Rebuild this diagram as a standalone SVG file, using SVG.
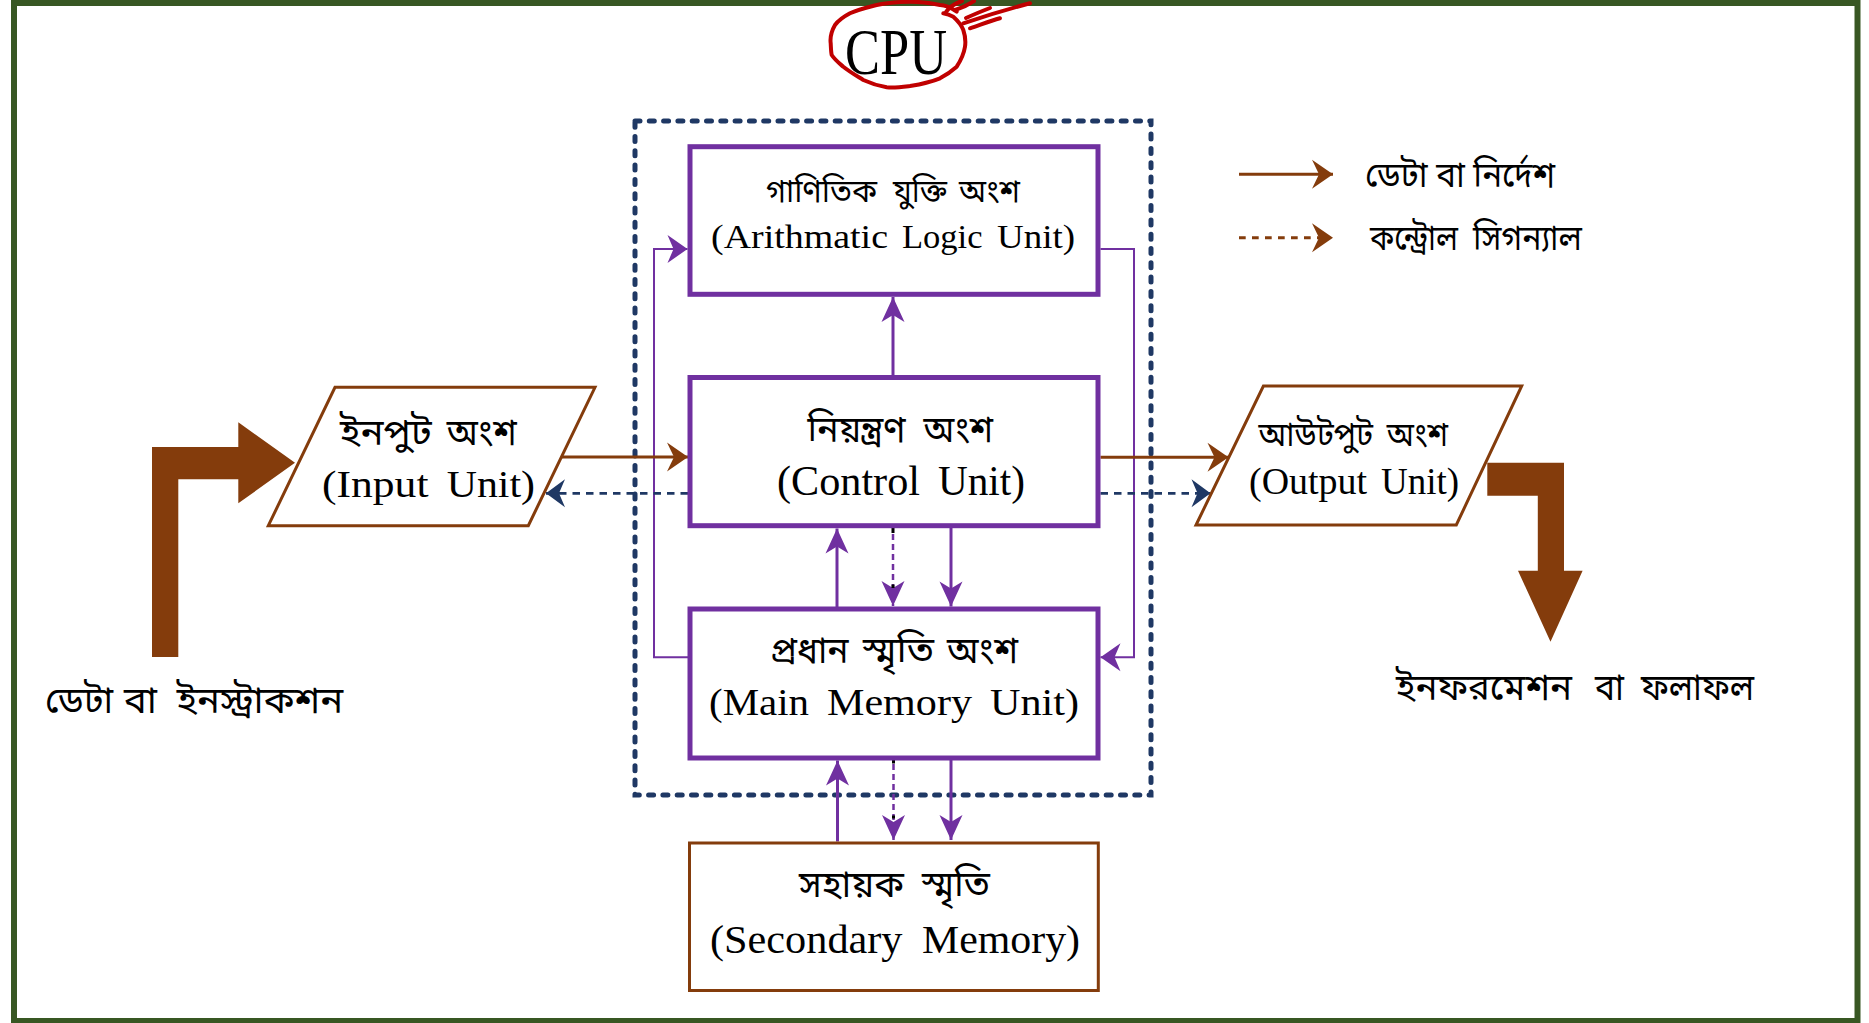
<svg xmlns="http://www.w3.org/2000/svg" width="1869" height="1023" viewBox="0 0 1869 1023">
  <style>
    .bn { font-family: "Noto Sans Bengali", "Noto Serif Bengali", "Lohit Bengali", "Vrinda", "Nirmala UI", "Noto Sans", sans-serif; fill: #000; }
    .en { font-family: "Liberation Serif", "Times New Roman", serif; fill: #000; }
    .unit { fill: #fff; stroke: #7030a0; stroke-width: 5; }
    .io { fill: #fff; stroke: #843c0c; stroke-width: 3; }
    .pl { fill: none; stroke: #7030a0; stroke-width: 3; }
    .loop { fill: none; stroke: #7030a0; stroke-width: 2; }
    .pdash { fill: none; stroke: #7030a0; stroke-width: 2.5; stroke-dasharray: 6 4; }
    .bl { fill: none; stroke: #843c0c; stroke-width: 3; }
    .nd { fill: none; stroke: #1f3864; stroke-width: 2.7; stroke-dasharray: 7.5 6; }
    .bigarrow { fill: #843c0c; }
  </style>
  <defs>
    <marker id="pLong" viewBox="-26 -13 27 26" refX="0" refY="0" markerWidth="27" markerHeight="26" markerUnits="userSpaceOnUse" orient="auto">
      <path d="M0,0 L-25,-11.5 L-18,0 L-25,11.5 Z" fill="#7030a0"/>
    </marker>
    <marker id="pWide" viewBox="-22 -15 23 30" refX="0" refY="0" markerWidth="23" markerHeight="30" markerUnits="userSpaceOnUse" orient="auto">
      <path d="M0,0 L-20,-14 L-14,0 L-20,14 Z" fill="#7030a0"/>
    </marker>
    <marker id="bWide" viewBox="-22 -15 23 30" refX="0" refY="0" markerWidth="23" markerHeight="30" markerUnits="userSpaceOnUse" orient="auto">
      <path d="M0,0 L-21,-14.5 L-14,0 L-21,14.5 Z" fill="#843c0c"/>
    </marker>
    <marker id="nWide" viewBox="-22 -15 23 30" refX="0" refY="0" markerWidth="23" markerHeight="30" markerUnits="userSpaceOnUse" orient="auto">
      <path d="M0,0 L-19,-14 L-13,0 L-19,14 Z" fill="#1f3864"/>
    </marker>
  </defs>

  <rect x="0" y="0" width="1869" height="1023" fill="#fff"/>
  <!-- page frame -->
  <rect id="frame" x="14" y="3" width="1843.5" height="1018" fill="none" stroke="#385723" stroke-width="6"/>

  <!-- CPU title with hand-drawn ring -->
  <g id="cpu-title">
    <text class="en" x="845" y="74" font-size="66" textLength="102" lengthAdjust="spacingAndGlyphs">CPU</text>
    <g fill="none" stroke="#c00000" stroke-width="4" stroke-linecap="round" stroke-linejoin="round">
      <path d="M956.7,11.7 C950,7 945,5 940,5 C925,2 918,1.7 910,1.7 C895,2 885,3 876.7,5 C865,8 857,10 850,13.3 C843,17 838,21 835,25 C831,32 830,38 830.7,43.3 C831,49 831,52 831.7,55 C835,60 839,63 843.3,66.7 C850,72 857,76 863.3,80 C872,84 879,86 886.7,87.3 C895,88 902,87 910,86 C922,84 931,82 940,78.3 C948,74 953,70 956.7,66.7 C961,60 964,53 965,46.7 C966,40 965,35 963.3,30 C961,24 957,20 953.3,16.7 C950,15 947,14 943.3,13.3"/>
      <path d="M946,12 C950,6 956,3 962,1 M955,10 C962,8 968,5 974,1"/>
      <path d="M963.3,23.3 C985,16 1008,9 1030,3.3"/>
      <path d="M970,28.3 C980,25 990,21 1000,18.3"/>
      <path d="M966,18 C975,14 982,11 990,8"/>
    </g>
  </g>

  <!-- CPU boundary -->
  <rect id="cpu-boundary" x="635" y="121" width="516" height="674" fill="none" stroke="#1f3864" stroke-width="5" stroke-dasharray="5 9.3" stroke-linecap="round"/>

  <!-- connectors -->
  <g id="connectors">
    <!-- control to ALU -->
    <line class="pl" x1="893" y1="375" x2="893" y2="297" marker-end="url(#pLong)"/>
    <!-- main memory back to ALU (left loop) -->
    <polyline class="loop" points="688,657.3 654,657.3 654,249 687.5,249" marker-end="url(#pWide)"/>
    <!-- ALU result to main memory (right loop) -->
    <polyline class="loop" points="1100.5,249 1134,249 1134,657.3 1100.5,657.3" marker-end="url(#pWide)"/>

    <!-- control <-> main memory -->
    <line class="pl" x1="837" y1="607" x2="837" y2="528.5" marker-end="url(#pLong)"/>
    <line class="pdash" x1="893" y1="534" x2="893" y2="606" marker-end="url(#pLong)"/>
    <line class="pl" x1="951" y1="528" x2="951" y2="606.5" marker-end="url(#pLong)"/>

    <!-- main memory <-> secondary memory -->
    <line class="pl" x1="837.5" y1="841.5" x2="837.5" y2="760.5" marker-end="url(#pLong)"/>
    <line class="pdash" x1="893.5" y1="764" x2="893.5" y2="840" marker-end="url(#pLong)"/>
    <line class="pl" x1="951" y1="760" x2="951" y2="840" marker-end="url(#pLong)"/>
    <!-- tiny black stubs at the ends of the dotted control lines -->
    <g fill="#000">
      <rect x="891.5" y="528" width="3" height="5"/>
      <rect x="891.5" y="584.5" width="3" height="3.5"/>
      <rect x="892" y="758.5" width="3" height="5"/>
      <rect x="892" y="815.5" width="3" height="3"/>
    </g>

    <!-- input to control, control to output (data) -->
    <line class="bl" x1="561" y1="457" x2="688" y2="457" marker-end="url(#bWide)"/>
    <line class="bl" x1="1100.5" y1="457.3" x2="1228.5" y2="457.3" marker-end="url(#bWide)"/>
    <!-- control signals to input/output -->
    <line class="nd" x1="688" y1="493.3" x2="546" y2="493.3" marker-end="url(#nWide)"/>
    <line class="nd" x1="1100.5" y1="493.3" x2="1210.5" y2="493.3" marker-end="url(#nWide)"/>

    <!-- bulk data in / information out -->
    <polygon class="bigarrow" points="152,657 152,447 238.3,447 238.3,422.3 295,462.7 238.3,503.3 238.3,479.3 178.3,479.3 178.3,657"/>
    <polygon class="bigarrow" points="1487.3,462.7 1564,462.7 1564,570.7 1582.6,570.7 1550.5,641.7 1518,570.7 1537.8,570.7 1537.8,495.7 1487.3,495.7"/>
  </g>

  <!-- units -->
  <g id="alu">
    <rect class="unit" x="690" y="146.7" width="408" height="147.6"/>
    <g class="bn" font-size="32">
      <text x="766" y="202" textLength="111" lengthAdjust="spacingAndGlyphs">গাণিতিক</text>
      <text x="893" y="202" textLength="54" lengthAdjust="spacingAndGlyphs">যুক্তি</text>
      <text x="959" y="202" textLength="61" lengthAdjust="spacingAndGlyphs">অংশ</text>
    </g>
    <g class="en" font-size="33">
      <text x="711" y="248.3" textLength="177" lengthAdjust="spacingAndGlyphs">(Arithmatic</text>
      <text x="902" y="248.3" textLength="80.5" lengthAdjust="spacingAndGlyphs">Logic</text>
      <text x="997" y="248.3" textLength="78" lengthAdjust="spacingAndGlyphs">Unit)</text>
    </g>
  </g>
  <g id="control-unit">
    <rect class="unit" x="690" y="377.5" width="408" height="148.2"/>
    <g class="bn" font-size="37">
      <text x="807.5" y="442" textLength="98" lengthAdjust="spacingAndGlyphs">নিয়ন্ত্রণ</text>
      <text x="923.6" y="442" textLength="69.4" lengthAdjust="spacingAndGlyphs">অংশ</text>
    </g>
    <g class="en" font-size="42">
      <text x="777" y="495" textLength="143" lengthAdjust="spacingAndGlyphs">(Control</text>
      <text x="938" y="495" textLength="87" lengthAdjust="spacingAndGlyphs">Unit)</text>
    </g>
  </g>
  <g id="main-memory">
    <rect class="unit" x="690" y="609" width="408" height="149"/>
    <g class="bn" font-size="37">
      <text x="770" y="663" textLength="78.6" lengthAdjust="spacingAndGlyphs">প্রধান</text>
      <text x="863" y="663" textLength="71" lengthAdjust="spacingAndGlyphs">স্মৃতি</text>
      <text x="947" y="663" textLength="71" lengthAdjust="spacingAndGlyphs">অংশ</text>
    </g>
    <g class="en" font-size="38">
      <text x="709" y="715" textLength="100" lengthAdjust="spacingAndGlyphs">(Main</text>
      <text x="827" y="715" textLength="145" lengthAdjust="spacingAndGlyphs">Memory</text>
      <text x="990" y="715" textLength="89" lengthAdjust="spacingAndGlyphs">Unit)</text>
    </g>
  </g>
  <g id="secondary-memory">
    <rect class="io" x="689.5" y="843" width="408.8" height="147.5"/>
    <g class="bn" font-size="37">
      <text x="799" y="897" textLength="105" lengthAdjust="spacingAndGlyphs">সহায়ক</text>
      <text x="922" y="897" textLength="68" lengthAdjust="spacingAndGlyphs">স্মৃতি</text>
    </g>
    <g class="en" font-size="40">
      <text x="710" y="953.3" textLength="192.5" lengthAdjust="spacingAndGlyphs">(Secondary</text>
      <text x="922" y="953.3" textLength="158" lengthAdjust="spacingAndGlyphs">Memory)</text>
    </g>
  </g>
  <g id="input-unit">
    <polygon class="io" points="335,387.3 595,387.3 528.3,525.7 268.3,525.7"/>
    <g class="bn" font-size="36">
      <text x="340" y="445" textLength="91.7" lengthAdjust="spacingAndGlyphs">ইনপুট</text>
      <text x="446.7" y="445" textLength="70" lengthAdjust="spacingAndGlyphs">অংশ</text>
    </g>
    <g class="en" font-size="38">
      <text x="322" y="496.7" textLength="106.5" lengthAdjust="spacingAndGlyphs">(Input</text>
      <text x="446.7" y="496.7" textLength="88.3" lengthAdjust="spacingAndGlyphs">Unit)</text>
    </g>
  </g>
  <g id="output-unit">
    <polygon class="io" points="1263.4,386 1521.7,386 1456.3,525 1196,525"/>
    <g class="bn" font-size="33">
      <text x="1258.5" y="446" textLength="114.5" lengthAdjust="spacingAndGlyphs">আউটপুট</text>
      <text x="1386.7" y="446" textLength="61.3" lengthAdjust="spacingAndGlyphs">অংশ</text>
    </g>
    <g class="en" font-size="37">
      <text x="1249" y="494" textLength="118" lengthAdjust="spacingAndGlyphs">(Output</text>
      <text x="1381" y="494" textLength="78" lengthAdjust="spacingAndGlyphs">Unit)</text>
    </g>
  </g>

  <!-- outer labels -->
  <g id="label-in" class="bn" font-size="37">
    <text x="45" y="713" textLength="68" lengthAdjust="spacingAndGlyphs">ডেটা</text>
    <text x="124" y="713" textLength="33" lengthAdjust="spacingAndGlyphs">বা</text>
    <text x="176.7" y="713" textLength="166.5" lengthAdjust="spacingAndGlyphs">ইনস্ট্রাকশন</text>
  </g>
  <g id="label-out" class="bn" font-size="37">
    <text x="1396" y="700" textLength="176" lengthAdjust="spacingAndGlyphs">ইনফরমেশন</text>
    <text x="1595" y="700" textLength="29" lengthAdjust="spacingAndGlyphs">বা</text>
    <text x="1641" y="700" textLength="113" lengthAdjust="spacingAndGlyphs">ফলাফল</text>
  </g>

  <!-- legend -->
  <g id="legend">
    <line class="bl" x1="1239" y1="174.3" x2="1333" y2="174.3" marker-end="url(#bWide)"/>
    <text class="bn" x="1365" y="186.7" font-size="35" textLength="190" lengthAdjust="spacingAndGlyphs">ডেটা বা নির্দেশ</text>
    <line class="bl" x1="1239" y1="237.7" x2="1320" y2="237.7" stroke-dasharray="6.7 6.3"/>
    <path d="M1333,237.7 L1312,223.2 L1319,237.7 L1312,252.2 Z" fill="#843c0c"/>
    <g class="bn" font-size="35">
      <text x="1370" y="250" textLength="88" lengthAdjust="spacingAndGlyphs">কন্ট্রোল</text>
      <text x="1473" y="250" textLength="109" lengthAdjust="spacingAndGlyphs">সিগন্যাল</text>
    </g>
  </g>
</svg>
